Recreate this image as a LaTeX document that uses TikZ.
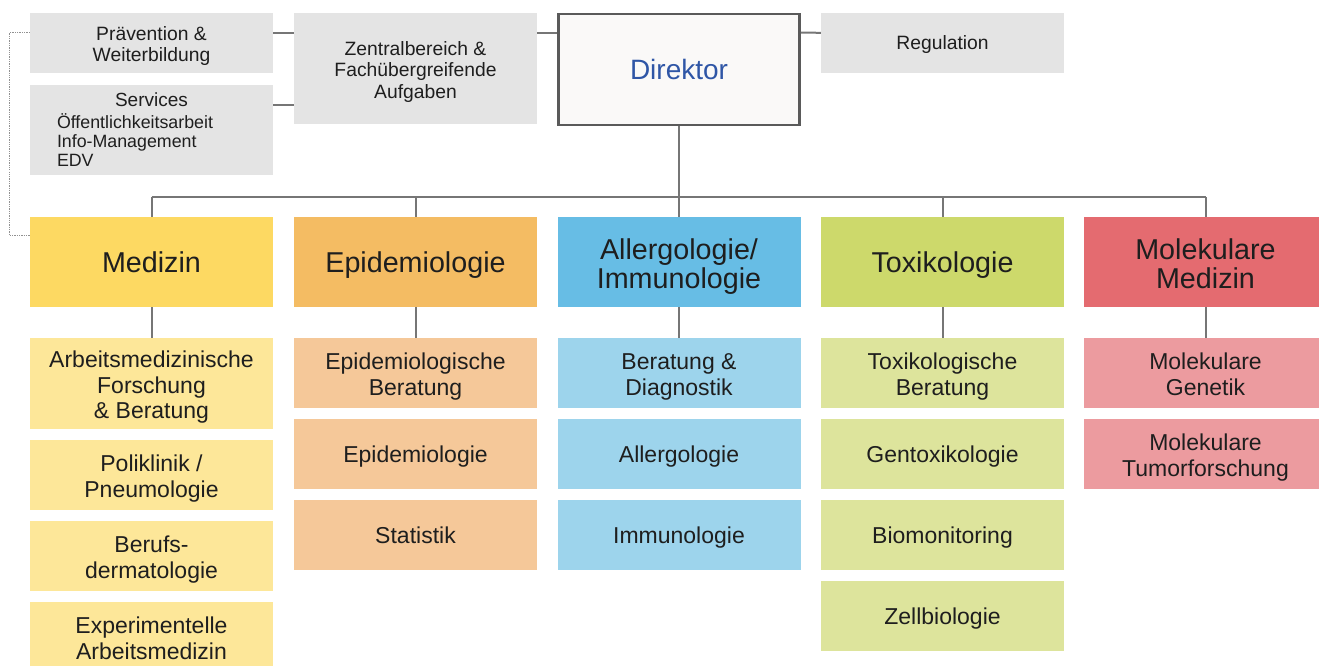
\documentclass[tikz,border=0pt]{standalone}
\usepackage{fontspec}
\setmainfont{Liberation Sans}

\definecolor{boxgrey}{HTML}{E4E4E4}
\definecolor{linegrey}{HTML}{767676}
\definecolor{dirline}{HTML}{5A5A5A}
\definecolor{dirfill}{HTML}{FAF9F8}
\definecolor{dirblue}{HTML}{2F56A6}
\definecolor{txt}{HTML}{1E1E1E}
\definecolor{medH}{HTML}{FDD962}
\definecolor{medS}{HTML}{FDE799}
\definecolor{epiH}{HTML}{F4BC63}
\definecolor{epiS}{HTML}{F5C899}
\definecolor{allH}{HTML}{67BDE5}
\definecolor{allS}{HTML}{9DD4EC}
\definecolor{toxH}{HTML}{CDD96B}
\definecolor{toxS}{HTML}{DDE49C}
\definecolor{molH}{HTML}{E46B70}
\definecolor{molS}{HTML}{EC9B9F}

% extra room above the first of several lines
\newcommand{\lift}{\rule{0pt}{1.05em}}

\begin{document}
\begin{tikzpicture}[x=1pt,y=-1pt,
    box/.style={rectangle,inner sep=0pt,minimum width=243pt,align=center,text=txt,
                execute at begin node={\rule{0pt}{0.93em}},
                execute at end node={\vphantom{g}}},
    grey/.style={box,fill=boxgrey,font=\fontsize{19.3}{21.5}\selectfont},
    head/.style={box,minimum height=90pt,font=\fontsize{28.7}{29.5}\selectfont},
    sub/.style={box,minimum height=70pt,font=\fontsize{23}{25.5}\selectfont},
    link/.style={draw=linegrey,line width=2pt},
    dotline/.style={draw=linegrey!80,line width=1.3pt,densely dotted}]

      \useasboundingbox (0,0) rectangle (1319,666);

      \begin{scope}[every node/.style={grey}]
        \node (praev)   at (151.5,43)   [minimum height=60pt] {\lift Prävention \&\\Weiterbildung};
        \node (serv)    at (151.5,130)  [minimum height=90pt,text width=189pt,align=left,
                                         font=\fontsize{17.8}{19}\selectfont]
          {\makebox[189pt]{\fontsize{19}{21}\selectfont Services}\\[3pt]
           Öffentlichkeitsarbeit\\Info-Management\\EDV};
        \node (zentral) at (415.5,68.5) [minimum height=111pt] {\lift Zentralbereich \&\\Fachübergreifende\\Aufgaben};
        \node (regul)   at (942.5,43)   [minimum height=60pt] {Regulation};
      \end{scope}

      \node (dir) at (679,69.5) [box,minimum width=241pt,minimum height=111pt,fill=dirfill,
                                 draw=dirline,line width=2.8pt,text=dirblue,
                                 font=\fontsize{28}{30}\selectfont] {Direktor};

      \begin{scope}[every node/.style={head}]
        \node (med) at (151.5,262)  [fill=medH] {Medizin};
        \node (epi) at (415.5,262)  [fill=epiH] {Epidemiologie};
        \node (all) at (679,262)    [fill=allH] {\lift Allergologie/\\Immunologie};
        \node (tox) at (942.5,262)  [fill=toxH] {Toxikologie};
        \node (mol) at (1205.5,262) [fill=molH] {\lift Molekulare\\Medizin};
      \end{scope}

      \begin{scope}[every node/.style={sub}]
        \node (med1) at (151.5,383.5) [fill=medS,minimum height=91pt] {\lift Arbeitsmedizinische\\Forschung\\\& Beratung};
        \node (med2) at (151.5,475)   [fill=medS] {\lift Poliklinik /\\Pneumologie};
        \node (med3) at (151.5,556)   [fill=medS] {\lift Berufs-\\dermatologie};
        \node (med4) at (151.5,637)   [fill=medS] {\lift Experimentelle\\Arbeitsmedizin};

        \node (epi1) at (415.5,373) [fill=epiS] {\lift Epidemiologische\\Beratung};
        \node (epi2) at (415.5,454) [fill=epiS] {Epidemiologie};
        \node (epi3) at (415.5,535) [fill=epiS] {Statistik};

        \node (all1) at (679,373) [fill=allS] {\lift Beratung \&\\Diagnostik};
        \node (all2) at (679,454) [fill=allS] {Allergologie};
        \node (all3) at (679,535) [fill=allS] {Immunologie};

        \node (tox1) at (942.5,373) [fill=toxS] {\lift Toxikologische\\Beratung};
        \node (tox2) at (942.5,454) [fill=toxS] {Gentoxikologie};
        \node (tox3) at (942.5,535) [fill=toxS] {Biomonitoring};
        \node (tox4) at (942.5,616) [fill=toxS] {Zellbiologie};

        \node (mol1) at (1205.5,373) [fill=molS] {\lift Molekulare\\Genetik};
        \node (mol2) at (1205.5,454) [fill=molS] {\lift Molekulare\\Tumorforschung};
      \end{scope}

      \coordinate (bus) at (679,197);

      \begin{scope}[every edge/.style={link}]
        % staff units
        \path ([yshift=-20pt]praev.north east)   edge ([yshift=-20pt]zentral.north west);
        \path ([yshift=-20pt]serv.north east)    edge ([yshift=-20pt]serv.north east -| zentral.west);
        \path ([yshift=-20pt]zentral.north east) edge ([yshift=-20pt]zentral.north east -| dir.west);
        \path ([yshift=-20pt]dir.north east)     edge ([yshift=-20pt]regul.north west);

        % director to departments
        \path (dir) edge (all);
        \path (med.north |- bus) edge (mol.north |- bus);
        \path (med.north |- bus) edge (med);
        \path (epi.north |- bus) edge (epi);
        \path (tox.north |- bus) edge (tox);
        \path (mol.north |- bus) edge (mol);

        % departments to first group
        \path (med) edge (med1);
        \path (epi) edge (epi1);
        \path (all) edge (all1);
        \path (tox) edge (tox1);
        \path (mol) edge (mol1);
      \end{scope}

      \draw[dotline] ([yshift=-20pt]praev.north west) -- ++(-20,0) |- ([yshift=-19pt]med.north west);

    \end{tikzpicture}
\end{document}
